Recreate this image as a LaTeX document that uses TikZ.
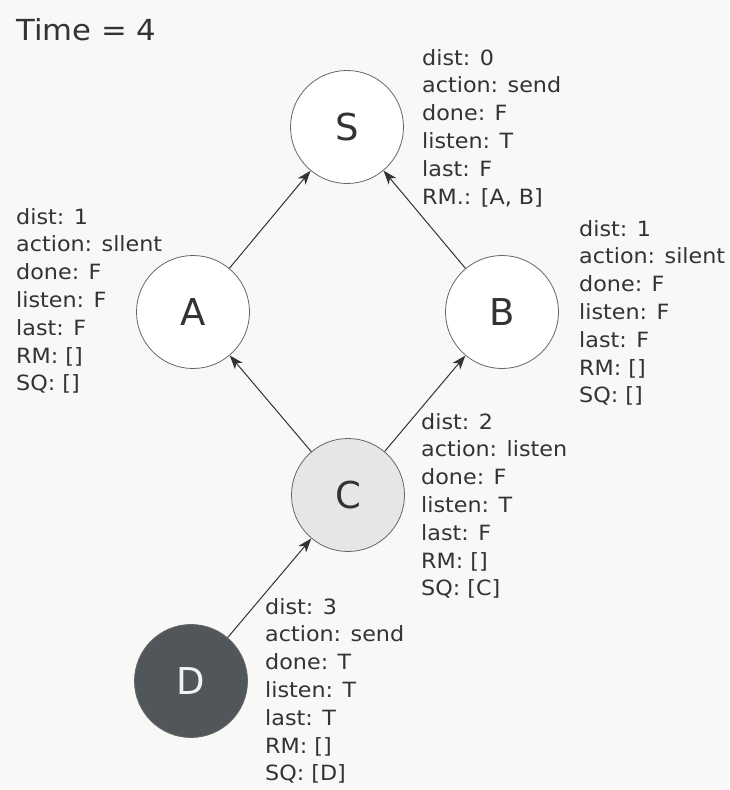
\documentclass[tikz,border=0pt]{standalone}
\usepackage{fontspec}
\setmainfont{DejaVu Sans}
\newfontfamily\statefont[FakeStretch=1.06]{DejaVu Sans}
\usepackage{tikz}
\usetikzlibrary{positioning, arrows.meta}
\definecolor{paper}{HTML}{F8F8F6}
\definecolor{ink}{HTML}{333333}
\definecolor{waitfill}{HTML}{E6E6E6}
\definecolor{sendfill}{HTML}{50565A}
\tikzset{
	statetext/.style={font=\statefont\fontsize{21}{27.8}\selectfont, text=ink, align=left, inner sep=0pt, anchor=north west}
}
\tikzset{
	timetext/.style={font=\statefont\fontsize{29}{36}\selectfont, text=ink, inner sep=0pt, anchor=west}
}

\begin{document}
\begin{tikzpicture}[x=1pt, y=-1pt]

      \tikzset{
        basicnode/.style={
            shape=circle,
            draw=gray!80!black,
            line width=0.8pt,
            fill=white,
            minimum size=113pt,
            inner sep=0pt,
            font=\fontsize{37}{40}\selectfont,
            text=ink
          },
        waitnode/.style={basicnode, fill=waitfill},
        sendnode/.style={basicnode, fill=sendfill, text=gray!10},
        msgarrow/.style={line width=1pt, draw=ink, -{Stealth[length=14pt, width=10pt, inset=4pt]}}
      }

      \fill[paper] (0,0) rectangle (729,790);
      \useasboundingbox (0,0) rectangle (729,790);

      \node[timetext] (time) at (16,30) {Time = 4};

      % the spanning tree
      \node[basicnode] (s) at (347,127) {S};
      \node[basicnode] (a) at (193,312) {A};
      \node[basicnode] (b) at (502,312) {B};
      \node[waitnode] (c) at (348,495) {C};
      \node[sendnode] (d) at (191,681) {D};

      \draw[msgarrow] (a) -- (s);
      \draw[msgarrow] (b) -- (s);
      \draw[msgarrow] (c) -- (a);
      \draw[msgarrow] (c) -- (b);
      \draw[msgarrow] (d) -- (c);

      % state of each process
      \node[statetext] (sinfo) at (422,49) {dist: 0\\action: send\\done: F\\listen: T\\last: F\\RM.: [A, B]};
      \node[statetext] (ainfo) at (16,208) {dist: 1\\action: sllent\\done: F\\listen: F\\last: F\\RM: []\\SQ: []};
      \node[statetext] (binfo) at (579,220) {dist: 1\\action: silent\\done: F\\listen: F\\last: F\\RM: []\\SQ: []};
      \node[statetext] (cinfo) at (421,413) {dist: 2\\action: listen\\done: F\\listen: T\\last: F\\RM: []\\SQ: [C]};
      \node[statetext] (dinfo) at (265,598) {dist: 3\\action: send\\done: T\\listen: T\\last: T\\RM: []\\SQ: [D]};
    \end{tikzpicture}
\end{document}
